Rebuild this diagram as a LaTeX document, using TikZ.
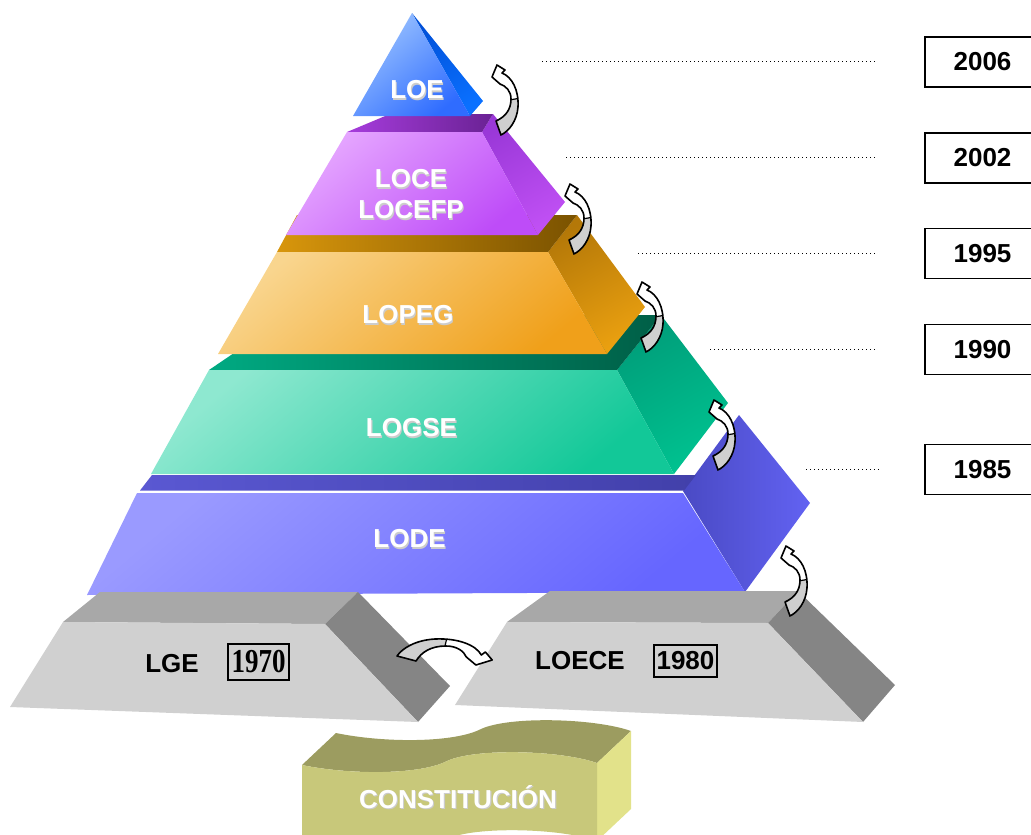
\documentclass[tikz,border=0pt]{standalone}
\usepackage{fontspec}
\usepackage{graphicx}
\setmainfont{Liberation Sans}
\newfontfamily\timesfont{Liberation Serif}

% layer colours
\definecolor{loeA}{HTML}{9CC4FF}\definecolor{loeB}{HTML}{2F6CFF}
\definecolor{loeS1}{HTML}{0050D8}\definecolor{loeS2}{HTML}{0A70FF}
\definecolor{loceA}{HTML}{E6A8FF}\definecolor{loceB}{HTML}{BE4CF8}
\definecolor{loceS1}{HTML}{9A38D8}\definecolor{loceS2}{HTML}{C050F4}
\definecolor{loceT1}{HTML}{A63CDC}\definecolor{loceT2}{HTML}{6A2294}
\definecolor{lopA}{HTML}{F9D58E}\definecolor{lopB}{HTML}{F0A01A}
\definecolor{lopS1}{HTML}{B47808}\definecolor{lopS2}{HTML}{EAA010}
\definecolor{lopT1}{HTML}{D8960C}\definecolor{lopT2}{HTML}{7A5200}
\definecolor{logA}{HTML}{8EE8D0}\definecolor{logB}{HTML}{12C898}
\definecolor{logS1}{HTML}{009E7A}\definecolor{logS2}{HTML}{00C290}
\definecolor{logT1}{HTML}{00AA82}\definecolor{logT2}{HTML}{005E46}
\definecolor{lodA}{HTML}{9A9AFF}\definecolor{lodB}{HTML}{6666FF}
\definecolor{lodS1}{HTML}{4A4AC4}\definecolor{lodS2}{HTML}{6262F2}
\definecolor{lodT1}{HTML}{5A58D2}\definecolor{lodT2}{HTML}{4240AA}
\definecolor{greyTop}{HTML}{A8A8A8}\definecolor{greyFront}{HTML}{D0D0D0}
\definecolor{greySide}{HTML}{858585}
\definecolor{conTop}{HTML}{9C9C60}\definecolor{conFront}{HTML}{C8C87A}
\definecolor{conSide}{HTML}{E2E28A}
\definecolor{arrowGrey}{HTML}{CFCFCF}

% outline of the bent block arrow, local units (tip up-left, tail at the bottom)
\def\bendpath{(5,0) -- (13,5) -- (10,8) .. controls (20,12) and (27,25) .. (26,42)
  .. controls (25,56) and (17,66) .. (9,70) -- (4,56)
  .. controls (13,52) and (19,45) .. (19,34)
  .. controls (19,26) and (14,21) .. (8,19) -- (0,12) -- cycle}
\newcommand\bendarrow{%
  \path[fill=white] \bendpath;
  \begin{scope}
    \clip \bendpath;
    \fill[arrowGrey] (-5,39) -- (40,31) -- (40,80) -- (-5,80) -- cycle;
    \draw[line width=1.2pt] (-5,39) -- (40,31);
  \end{scope}
  \path[bendline] \bendpath;
}
\newcommand\shlabel[3]{%
  \node[lblsh] (#1s) at (#2) {#3};
  \node[lbl] (#1) at (#2) {#3};
}

\begin{document}
\begin{tikzpicture}[x=1pt,y=-1pt,
  lbl/.style={font=\fontsize{26}{31}\selectfont\bfseries, text=white, align=center, inner sep=0},
  lblsh/.style={lbl, text=black!20, xshift=1.1pt, yshift=-1.1pt},
  blklbl/.style={font=\fontsize{26}{31}\selectfont\bfseries, text=black, inner sep=0},
  yearbox/.style={draw=black, line width=1.4pt, fill=white, minimum width=115pt,
    minimum height=50pt, inner sep=0, font=\fontsize{26}{31}\selectfont\bfseries},
  smallbox/.style={draw=black, line width=1.4pt, inner sep=0},
  dotline/.style={line width=1pt, dash pattern=on 1.2pt off 2.8pt},
  bendline/.style={draw=black, line width=1.6pt, line join=round},
]
\useasboundingbox (0,0) rectangle (1031,835);
\clip (0,0) rectangle (1031,835);

% ---- LODE ----
\path[left color=lodS1, right color=lodS2] (683,491) -- (739,415) -- (810,503) -- (745,592) -- cycle;
\path[left color=lodT1, right color=lodT2] (140,490.5) -- (152,475) -- (696,475) -- (684,490.5) -- cycle;
\path[top color=lodA, bottom color=lodB, shading angle=40] (137,493) -- (683,493) -- (745,592) -- (87,595) -- cycle;

% ---- LOGSE ----
\path[top color=logS1, bottom color=logS2, shading angle=30] (617,370) -- (661,315) -- (728,403) -- (674,474) -- cycle;
\path[left color=logT1, right color=logT2] (209,370) -- (290,315) -- (661,315) -- (617,370) -- cycle;
\path[top color=logA, bottom color=logB, shading angle=40] (209,370) -- (617,370) -- (674,474) -- (151,474) -- cycle;

% ---- LOPEG ----
\path[top color=lopS1, bottom color=lopS2, shading angle=30] (548,252) -- (577,215) -- (645,307) -- (607,354) -- cycle;
\path[left color=lopT1, right color=lopT2] (277,252) -- (297,215) -- (577,215) -- (548,252) -- cycle;
\path[top color=lopA, bottom color=lopB, shading angle=40] (277,252) -- (548,252) -- (607,354) -- (218,354) -- cycle;

% ---- LOCE / LOCEFP ----
\path[top color=loceS1, bottom color=loceS2, shading angle=30] (482,132) -- (493,114) -- (565,202) -- (538,235) -- cycle;
\path[left color=loceT1, right color=loceT2] (347,132) -- (390,114) -- (493,114) -- (482,132) -- cycle;
\path[top color=loceA, bottom color=loceB, shading angle=40] (347,132) -- (482,132) -- (538,235) -- (286,235) -- cycle;

% ---- LOE ----
\path[top color=loeS1, bottom color=loeS2, shading angle=30] (412,13) -- (483,101) -- (470,116) -- cycle;
\path[top color=loeA, bottom color=loeB, shading angle=40] (412,13) -- (470,116) -- (353,116) -- cycle;

% ---- LGE block ----
\fill[greyTop] (63,622) -- (100,592) -- (358,592) -- (325,624) -- cycle;
\fill[greySide] (325,624) -- (358,592) -- (450,686) -- (418,722) -- cycle;
\fill[greyFront] (63,622) -- (325,624) -- (418,722) -- (10,707) -- cycle;

% ---- LOECE block ----
\fill[greyTop] (507,622) -- (550,591) -- (798,591) -- (768,623) -- cycle;
\fill[greySide] (768,623) -- (798,591) -- (895,685) -- (863,722) -- cycle;
\fill[greyFront] (507,622) -- (768,623) -- (863,722) -- (455,705) -- cycle;

% ---- CONSTITUCION wave block ----
\fill[conTop] (302,765) .. controls (350,775) and (420,775) .. (447,761)
  .. controls (475,748) and (560,750) .. (597,763) -- (631,731)
  .. controls (594,718) and (509,716) .. (481,729)
  .. controls (454,743) and (384,743) .. (336,733) -- cycle;
\fill[conSide] (597,763) -- (631,731) -- (631,809) -- (597,841) -- cycle;
\fill[conFront] (302,765) .. controls (350,775) and (420,775) .. (447,761)
  .. controls (475,748) and (560,750) .. (597,763) -- (597,841)
  .. controls (560,828) and (475,826) .. (447,839)
  .. controls (420,853) and (350,853) .. (302,843) -- cycle;

% ---- bent arrows ----
\begin{scope}[shift={(492,65)}]\bendarrow\end{scope}
\begin{scope}[shift={(565,184)}]\bendarrow\end{scope}
\begin{scope}[shift={(637,282)}]\bendarrow\end{scope}
\begin{scope}[shift={(709,400)}]\bendarrow\end{scope}
\begin{scope}[shift={(781,546)}]\bendarrow\end{scope}
\begin{scope}[shift={(492.2,665)}, cm={0,1,1.36,0,(0,0)}]\bendarrow\end{scope}

% ---- labels ----
\shlabel{loe}{417,90}{LOE}
\shlabel{loce}{411,194.5}{LOCE\\LOCEFP}
\shlabel{lopeg}{408,315}{LOPEG}
\shlabel{logse}{411.5,428}{LOGSE}
\shlabel{lode}{409.5,539}{LODE}
\shlabel{const}{458,797}{CONSTITUCIÓN}

\node[blklbl] (lge) at (172,664) {LGE};
\node[smallbox, minimum width=61pt, minimum height=36pt] (y1970) at (258.5,662)
  {\scalebox{1}[1.24]{\fontsize{27}{27}\selectfont\timesfont\bfseries 1970}};
\node[blklbl] (loece) at (580,661) {LOECE};
\node[smallbox, minimum width=63pt, minimum height=32pt, font=\fontsize{26}{31}\selectfont\bfseries] (y1980) at (685.5,661) {1980};

% ---- year boxes with dotted leaders ----
\node[yearbox] (y2006) at (982.5,62) {2006};
\node[yearbox] (y2002) at (982.5,158) {2002};
\node[yearbox] (y1995) at (982.5,253.5) {1995};
\node[yearbox] (y1990) at (982.5,349.5) {1990};
\node[yearbox] (y1985) at (982.5,469.5) {1985};

\coordinate (d06a) at (542,61);  \coordinate (d06b) at (876,61);
\coordinate (d02a) at (566,157); \coordinate (d02b) at (876,157);
\coordinate (d95a) at (638,253); \coordinate (d95b) at (876,253);
\coordinate (d90a) at (710,349); \coordinate (d90b) at (876,349);
\coordinate (d85a) at (806,469); \coordinate (d85b) at (880,469);
\draw[dotline] (d06a) -- (d06b);
\draw[dotline] (d02a) -- (d02b);
\draw[dotline] (d95a) -- (d95b);
\draw[dotline] (d90a) -- (d90b);
\draw[dotline] (d85a) -- (d85b);
\end{tikzpicture}
\end{document}
